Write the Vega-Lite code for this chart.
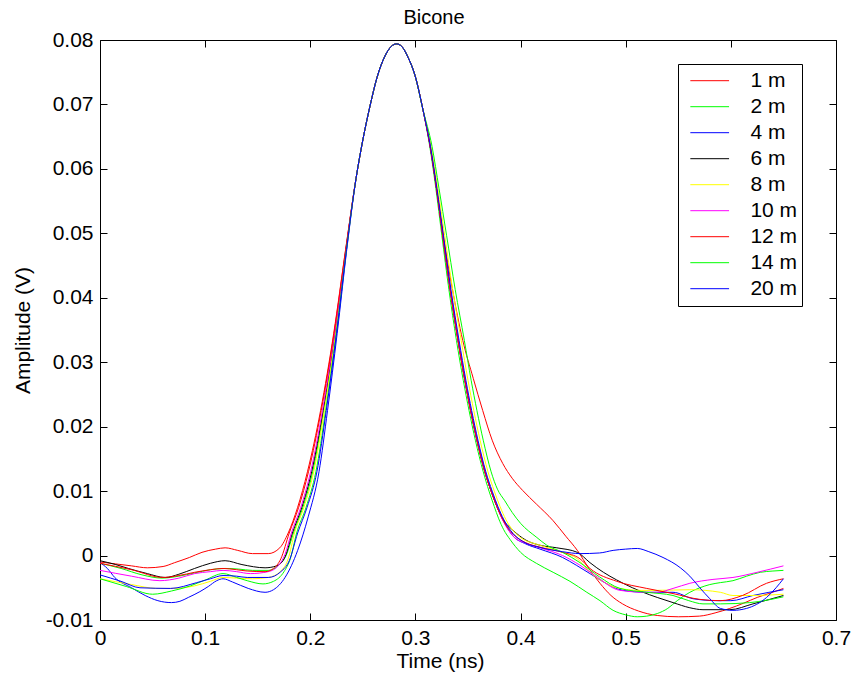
{
  "$schema": "https://vega.github.io/schema/vega-lite/v6.json",
  "autosize": {"type": "none"},
  "padding": {"left": 100, "top": 40, "right": 17, "bottom": 59},
  "width": 736,
  "height": 580,
  "background": "white",
  "config": {
    "font": "Liberation Sans",
    "view": {"stroke": "black", "strokeWidth": 1},
    "axis": {"grid": false, "domainColor": "black", "tickColor": "black", "labelColor": "black", "titleColor": "black", "labelFont": "Liberation Sans", "titleFont": "Liberation Sans", "titleFontWeight": "normal", "labelFontSize": 21, "titleFontSize": 21}
  },
  "title": {"text": "Bicone", "fontSize": 20, "fontWeight": "normal", "font": "Liberation Sans", "color": "black", "offset": 1, "dx": -34},
  "data": {"values": [
    {"s":"1 m","t":0,"v":-0.0010},{"s":"1 m","t":0.015,"v":-0.0013},{"s":"1 m","t":0.03,"v":-0.0016},{"s":"1 m","t":0.045,"v":-0.0019},{"s":"1 m","t":0.06,"v":-0.0017},{"s":"1 m","t":0.071,"v":-0.0011},{"s":"1 m","t":0.085,"v":-0.0003},{"s":"1 m","t":0.097,"v":0.0005},{"s":"1 m","t":0.11,"v":0.0010},{"s":"1 m","t":0.119,"v":0.0012},{"s":"1 m","t":0.131,"v":0.0008},{"s":"1 m","t":0.145,"v":0.0003},{"s":"1 m","t":0.16,"v":0.0003},{"s":"1 m","t":0.171,"v":0.0012},{"s":"1 m","t":0.179,"v":0.0035},{"s":"1 m","t":0.188,"v":0.0075},{"s":"1 m","t":0.1973,"v":0.0130},{"s":"1 m","t":0.2098,"v":0.0225},{"s":"1 m","t":0.2223,"v":0.0345},{"s":"1 m","t":0.2336,"v":0.0475},{"s":"1 m","t":0.2435,"v":0.0585},{"s":"1 m","t":0.250,"v":0.0645},{"s":"1 m","t":0.257,"v":0.0699},{"s":"1 m","t":0.2635,"v":0.0742},{"s":"1 m","t":0.271,"v":0.0775},{"s":"1 m","t":0.277,"v":0.0790},{"s":"1 m","t":0.282,"v":0.0794},{"s":"1 m","t":0.287,"v":0.0790},{"s":"1 m","t":0.293,"v":0.0773},{"s":"1 m","t":0.2996,"v":0.0745},{"s":"1 m","t":0.307,"v":0.0693},{"s":"1 m","t":0.314,"v":0.0637},{"s":"1 m","t":0.320,"v":0.0574},{"s":"1 m","t":0.326,"v":0.0503},{"s":"1 m","t":0.335,"v":0.0415},{"s":"1 m","t":0.345,"v":0.0334},{"s":"1 m","t":0.355,"v":0.0275},{"s":"1 m","t":0.364,"v":0.0225},{"s":"1 m","t":0.373,"v":0.0179},{"s":"1 m","t":0.383,"v":0.0143},{"s":"1 m","t":0.392,"v":0.0120},{"s":"1 m","t":0.402,"v":0.0101},{"s":"1 m","t":0.415,"v":0.0080},{"s":"1 m","t":0.431,"v":0.0054},{"s":"1 m","t":0.443,"v":0.0030},{"s":"1 m","t":0.454,"v":0.0008},{"s":"1 m","t":0.465,"v":-0.0020},{"s":"1 m","t":0.4755,"v":-0.0043},{"s":"1 m","t":0.486,"v":-0.0062},{"s":"1 m","t":0.497,"v":-0.0075},{"s":"1 m","t":0.512,"v":-0.0086},{"s":"1 m","t":0.53,"v":-0.0093},{"s":"1 m","t":0.55,"v":-0.0095},{"s":"1 m","t":0.57,"v":-0.0094},{"s":"1 m","t":0.585,"v":-0.0089},{"s":"1 m","t":0.599,"v":-0.0082},{"s":"1 m","t":0.612,"v":-0.0074},{"s":"1 m","t":0.625,"v":-0.0065},{"s":"1 m","t":0.638,"v":-0.0058},{"s":"1 m","t":0.65,"v":-0.0051},

    {"s":"2 m","t":0,"v":-0.0012},{"s":"2 m","t":0.02,"v":-0.0020},{"s":"2 m","t":0.04,"v":-0.0030},{"s":"2 m","t":0.059,"v":-0.0035},{"s":"2 m","t":0.075,"v":-0.0032},{"s":"2 m","t":0.09,"v":-0.0027},{"s":"2 m","t":0.105,"v":-0.0022},{"s":"2 m","t":0.119,"v":-0.0020},{"s":"2 m","t":0.132,"v":-0.0021},{"s":"2 m","t":0.145,"v":-0.0023},{"s":"2 m","t":0.16,"v":-0.0023},{"s":"2 m","t":0.17,"v":-0.0015},{"s":"2 m","t":0.177,"v":0.0000},{"s":"2 m","t":0.184,"v":0.0035},{"s":"2 m","t":0.193,"v":0.0075},{"s":"2 m","t":0.2023,"v":0.0130},{"s":"2 m","t":0.2128,"v":0.0225},{"s":"2 m","t":0.2238,"v":0.0345},{"s":"2 m","t":0.2341,"v":0.0475},{"s":"2 m","t":0.2435,"v":0.0585},{"s":"2 m","t":0.250,"v":0.0645},{"s":"2 m","t":0.257,"v":0.0699},{"s":"2 m","t":0.2635,"v":0.0742},{"s":"2 m","t":0.271,"v":0.0775},{"s":"2 m","t":0.277,"v":0.0790},{"s":"2 m","t":0.282,"v":0.0794},{"s":"2 m","t":0.287,"v":0.0790},{"s":"2 m","t":0.293,"v":0.0773},{"s":"2 m","t":0.2996,"v":0.0745},{"s":"2 m","t":0.307,"v":0.0693},{"s":"2 m","t":0.3136,"v":0.0635},{"s":"2 m","t":0.3194,"v":0.0570},{"s":"2 m","t":0.3251,"v":0.0497},{"s":"2 m","t":0.3318,"v":0.0413},{"s":"2 m","t":0.339,"v":0.0334},{"s":"2 m","t":0.3455,"v":0.0272},{"s":"2 m","t":0.351,"v":0.0225},{"s":"2 m","t":0.357,"v":0.0179},{"s":"2 m","t":0.3645,"v":0.0130},{"s":"2 m","t":0.370,"v":0.0100},{"s":"2 m","t":0.375,"v":0.0076},{"s":"2 m","t":0.379,"v":0.0058},{"s":"2 m","t":0.384,"v":0.0040},{"s":"2 m","t":0.39,"v":0.0025},{"s":"2 m","t":0.4,"v":0.0005},{"s":"2 m","t":0.415,"v":-0.0012},{"s":"2 m","t":0.431,"v":-0.0026},{"s":"2 m","t":0.447,"v":-0.0040},{"s":"2 m","t":0.463,"v":-0.0057},{"s":"2 m","t":0.4755,"v":-0.0070},{"s":"2 m","t":0.488,"v":-0.0085},{"s":"2 m","t":0.5,"v":-0.0092},{"s":"2 m","t":0.511,"v":-0.0095},{"s":"2 m","t":0.52,"v":-0.0094},{"s":"2 m","t":0.53,"v":-0.0090},{"s":"2 m","t":0.54,"v":-0.0082},{"s":"2 m","t":0.549,"v":-0.0070},{"s":"2 m","t":0.561,"v":-0.0057},{"s":"2 m","t":0.5705,"v":-0.0050},{"s":"2 m","t":0.58,"v":-0.0045},{"s":"2 m","t":0.59,"v":-0.0042},{"s":"2 m","t":0.602,"v":-0.0039},{"s":"2 m","t":0.615,"v":-0.0032},{"s":"2 m","t":0.628,"v":-0.0026},{"s":"2 m","t":0.64,"v":-0.0024},{"s":"2 m","t":0.65,"v":-0.0023},

    {"s":"4 m","t":0,"v":-0.0011},{"s":"4 m","t":0.007,"v":-0.0020},{"s":"4 m","t":0.014,"v":-0.0034},{"s":"4 m","t":0.03,"v":-0.0050},{"s":"4 m","t":0.043,"v":-0.0062},{"s":"4 m","t":0.055,"v":-0.0070},{"s":"4 m","t":0.068,"v":-0.0073},{"s":"4 m","t":0.076,"v":-0.0071},{"s":"4 m","t":0.084,"v":-0.0065},{"s":"4 m","t":0.095,"v":-0.0056},{"s":"4 m","t":0.103,"v":-0.0048},{"s":"4 m","t":0.111,"v":-0.0039},{"s":"4 m","t":0.117,"v":-0.0036},{"s":"4 m","t":0.126,"v":-0.0041},{"s":"4 m","t":0.141,"v":-0.0051},{"s":"4 m","t":0.157,"v":-0.0057},{"s":"4 m","t":0.165,"v":-0.0053},{"s":"4 m","t":0.176,"v":-0.0034},{"s":"4 m","t":0.188,"v":0.0008},{"s":"4 m","t":0.198,"v":0.0060},{"s":"4 m","t":0.2083,"v":0.0130},{"s":"4 m","t":0.2164,"v":0.0225},{"s":"4 m","t":0.2256,"v":0.0345},{"s":"4 m","t":0.2347,"v":0.0475},{"s":"4 m","t":0.2435,"v":0.0585},{"s":"4 m","t":0.250,"v":0.0645},{"s":"4 m","t":0.257,"v":0.0699},{"s":"4 m","t":0.2635,"v":0.0742},{"s":"4 m","t":0.271,"v":0.0775},{"s":"4 m","t":0.277,"v":0.0790},{"s":"4 m","t":0.282,"v":0.0794},{"s":"4 m","t":0.287,"v":0.0790},{"s":"4 m","t":0.293,"v":0.0773},{"s":"4 m","t":0.2996,"v":0.0745},{"s":"4 m","t":0.307,"v":0.0693},{"s":"4 m","t":0.314,"v":0.0635},{"s":"4 m","t":0.320,"v":0.0570},{"s":"4 m","t":0.326,"v":0.0497},{"s":"4 m","t":0.333,"v":0.0413},{"s":"4 m","t":0.3405,"v":0.0334},{"s":"4 m","t":0.347,"v":0.0272},{"s":"4 m","t":0.3525,"v":0.0225},{"s":"4 m","t":0.3585,"v":0.0179},{"s":"4 m","t":0.366,"v":0.0130},{"s":"4 m","t":0.372,"v":0.0100},{"s":"4 m","t":0.3775,"v":0.0076},{"s":"4 m","t":0.383,"v":0.0056},{"s":"4 m","t":0.393,"v":0.0030},{"s":"4 m","t":0.405,"v":0.0018},{"s":"4 m","t":0.4185,"v":0.0010},{"s":"4 m","t":0.44,"v":-0.0003},{"s":"4 m","t":0.453,"v":-0.0015},{"s":"4 m","t":0.466,"v":-0.0028},{"s":"4 m","t":0.48,"v":-0.0042},{"s":"4 m","t":0.4975,"v":-0.0054},{"s":"4 m","t":0.52,"v":-0.0057},{"s":"4 m","t":0.545,"v":-0.0057},{"s":"4 m","t":0.564,"v":-0.0067},{"s":"4 m","t":0.587,"v":-0.0070},{"s":"4 m","t":0.6,"v":-0.0070},{"s":"4 m","t":0.621,"v":-0.0062},{"s":"4 m","t":0.65,"v":-0.0053},

    {"s":"6 m","t":0,"v":-0.0008},{"s":"6 m","t":0.015,"v":-0.0014},{"s":"6 m","t":0.027,"v":-0.0020},{"s":"6 m","t":0.045,"v":-0.0028},{"s":"6 m","t":0.062,"v":-0.0034},{"s":"6 m","t":0.075,"v":-0.0029},{"s":"6 m","t":0.09,"v":-0.0020},{"s":"6 m","t":0.105,"v":-0.0012},{"s":"6 m","t":0.119,"v":-0.0008},{"s":"6 m","t":0.135,"v":-0.0014},{"s":"6 m","t":0.157,"v":-0.0019},{"s":"6 m","t":0.168,"v":-0.0016},{"s":"6 m","t":0.176,"v":-0.0002},{"s":"6 m","t":0.183,"v":0.0035},{"s":"6 m","t":0.192,"v":0.0075},{"s":"6 m","t":0.2013,"v":0.0130},{"s":"6 m","t":0.2122,"v":0.0225},{"s":"6 m","t":0.2235,"v":0.0345},{"s":"6 m","t":0.234,"v":0.0475},{"s":"6 m","t":0.2435,"v":0.0585},{"s":"6 m","t":0.250,"v":0.0645},{"s":"6 m","t":0.257,"v":0.0699},{"s":"6 m","t":0.2635,"v":0.0742},{"s":"6 m","t":0.271,"v":0.0775},{"s":"6 m","t":0.277,"v":0.0790},{"s":"6 m","t":0.282,"v":0.0794},{"s":"6 m","t":0.287,"v":0.0790},{"s":"6 m","t":0.293,"v":0.0773},{"s":"6 m","t":0.2996,"v":0.0745},{"s":"6 m","t":0.307,"v":0.0693},{"s":"6 m","t":0.314,"v":0.0635},{"s":"6 m","t":0.320,"v":0.0570},{"s":"6 m","t":0.326,"v":0.0497},{"s":"6 m","t":0.333,"v":0.0413},{"s":"6 m","t":0.3405,"v":0.0334},{"s":"6 m","t":0.347,"v":0.0272},{"s":"6 m","t":0.3525,"v":0.0225},{"s":"6 m","t":0.3585,"v":0.0179},{"s":"6 m","t":0.366,"v":0.0130},{"s":"6 m","t":0.372,"v":0.0100},{"s":"6 m","t":0.3775,"v":0.0076},{"s":"6 m","t":0.383,"v":0.0057},{"s":"6 m","t":0.393,"v":0.0039},{"s":"6 m","t":0.405,"v":0.0024},{"s":"6 m","t":0.4185,"v":0.0016},{"s":"6 m","t":0.4345,"v":0.0012},{"s":"6 m","t":0.454,"v":0.0005},{"s":"6 m","t":0.466,"v":-0.0011},{"s":"6 m","t":0.4725,"v":-0.0019},{"s":"6 m","t":0.4975,"v":-0.0043},{"s":"6 m","t":0.515,"v":-0.0056},{"s":"6 m","t":0.53,"v":-0.0065},{"s":"6 m","t":0.545,"v":-0.0073},{"s":"6 m","t":0.561,"v":-0.0081},{"s":"6 m","t":0.5735,"v":-0.0084},{"s":"6 m","t":0.599,"v":-0.0084},{"s":"6 m","t":0.621,"v":-0.0075},{"s":"6 m","t":0.65,"v":-0.0062},

    {"s":"8 m","t":0,"v":-0.0036},{"s":"8 m","t":0.03,"v":-0.0045},{"s":"8 m","t":0.054,"v":-0.0051},{"s":"8 m","t":0.07,"v":-0.0051},{"s":"8 m","t":0.09,"v":-0.0047},{"s":"8 m","t":0.105,"v":-0.0040},{"s":"8 m","t":0.117,"v":-0.0034},{"s":"8 m","t":0.13,"v":-0.0035},{"s":"8 m","t":0.145,"v":-0.0036},{"s":"8 m","t":0.16,"v":-0.0034},{"s":"8 m","t":0.172,"v":-0.0024},{"s":"8 m","t":0.179,"v":-0.0005},{"s":"8 m","t":0.185,"v":0.0035},{"s":"8 m","t":0.194,"v":0.0075},{"s":"8 m","t":0.2033,"v":0.0130},{"s":"8 m","t":0.2134,"v":0.0225},{"s":"8 m","t":0.2241,"v":0.0345},{"s":"8 m","t":0.2342,"v":0.0475},{"s":"8 m","t":0.2435,"v":0.0585},{"s":"8 m","t":0.250,"v":0.0645},{"s":"8 m","t":0.257,"v":0.0699},{"s":"8 m","t":0.2635,"v":0.0742},{"s":"8 m","t":0.271,"v":0.0775},{"s":"8 m","t":0.277,"v":0.0790},{"s":"8 m","t":0.282,"v":0.0794},{"s":"8 m","t":0.287,"v":0.0790},{"s":"8 m","t":0.293,"v":0.0773},{"s":"8 m","t":0.2996,"v":0.0745},{"s":"8 m","t":0.307,"v":0.0693},{"s":"8 m","t":0.3149,"v":0.0635},{"s":"8 m","t":0.3212,"v":0.0570},{"s":"8 m","t":0.3278,"v":0.0497},{"s":"8 m","t":0.3354,"v":0.0413},{"s":"8 m","t":0.3435,"v":0.0334},{"s":"8 m","t":0.350,"v":0.0272},{"s":"8 m","t":0.3555,"v":0.0225},{"s":"8 m","t":0.3615,"v":0.0179},{"s":"8 m","t":0.369,"v":0.0130},{"s":"8 m","t":0.375,"v":0.0100},{"s":"8 m","t":0.3805,"v":0.0076},{"s":"8 m","t":0.386,"v":0.0056},{"s":"8 m","t":0.395,"v":0.0035},{"s":"8 m","t":0.40,"v":0.0028},{"s":"8 m","t":0.4185,"v":0.0016},{"s":"8 m","t":0.44,"v":0.0005},{"s":"8 m","t":0.454,"v":-0.0005},{"s":"8 m","t":0.466,"v":-0.0026},{"s":"8 m","t":0.478,"v":-0.0040},{"s":"8 m","t":0.4915,"v":-0.0050},{"s":"8 m","t":0.5135,"v":-0.0054},{"s":"8 m","t":0.53,"v":-0.0054},{"s":"8 m","t":0.561,"v":-0.0053},{"s":"8 m","t":0.59,"v":-0.0057},{"s":"8 m","t":0.602,"v":-0.0062},{"s":"8 m","t":0.621,"v":-0.0062},{"s":"8 m","t":0.65,"v":-0.0060},

    {"s":"10 m","t":0,"v":-0.0023},{"s":"10 m","t":0.03,"v":-0.0032},{"s":"10 m","t":0.057,"v":-0.0039},{"s":"10 m","t":0.075,"v":-0.0035},{"s":"10 m","t":0.09,"v":-0.0028},{"s":"10 m","t":0.105,"v":-0.0025},{"s":"10 m","t":0.117,"v":-0.0023},{"s":"10 m","t":0.13,"v":-0.0025},{"s":"10 m","t":0.143,"v":-0.0028},{"s":"10 m","t":0.16,"v":-0.0025},{"s":"10 m","t":0.17,"v":-0.0015},{"s":"10 m","t":0.176,"v":0.0002},{"s":"10 m","t":0.182,"v":0.0035},{"s":"10 m","t":0.191,"v":0.0075},{"s":"10 m","t":0.2003,"v":0.0130},{"s":"10 m","t":0.2116,"v":0.0225},{"s":"10 m","t":0.2232,"v":0.0345},{"s":"10 m","t":0.2339,"v":0.0475},{"s":"10 m","t":0.2435,"v":0.0585},{"s":"10 m","t":0.250,"v":0.0645},{"s":"10 m","t":0.257,"v":0.0699},{"s":"10 m","t":0.2635,"v":0.0742},{"s":"10 m","t":0.271,"v":0.0775},{"s":"10 m","t":0.277,"v":0.0790},{"s":"10 m","t":0.282,"v":0.0794},{"s":"10 m","t":0.287,"v":0.0790},{"s":"10 m","t":0.293,"v":0.0773},{"s":"10 m","t":0.2996,"v":0.0745},{"s":"10 m","t":0.307,"v":0.0693},{"s":"10 m","t":0.314,"v":0.0635},{"s":"10 m","t":0.320,"v":0.0570},{"s":"10 m","t":0.326,"v":0.0497},{"s":"10 m","t":0.333,"v":0.0413},{"s":"10 m","t":0.3405,"v":0.0334},{"s":"10 m","t":0.347,"v":0.0272},{"s":"10 m","t":0.3525,"v":0.0225},{"s":"10 m","t":0.3585,"v":0.0179},{"s":"10 m","t":0.366,"v":0.0130},{"s":"10 m","t":0.372,"v":0.0100},{"s":"10 m","t":0.3775,"v":0.0076},{"s":"10 m","t":0.383,"v":0.0055},{"s":"10 m","t":0.393,"v":0.0030},{"s":"10 m","t":0.405,"v":0.0019},{"s":"10 m","t":0.4185,"v":0.0012},{"s":"10 m","t":0.44,"v":0.0000},{"s":"10 m","t":0.4565,"v":-0.0015},{"s":"10 m","t":0.47,"v":-0.0030},{"s":"10 m","t":0.4945,"v":-0.0054},{"s":"10 m","t":0.52,"v":-0.0057},{"s":"10 m","t":0.53,"v":-0.0057},{"s":"10 m","t":0.545,"v":-0.0051},{"s":"10 m","t":0.561,"v":-0.0043},{"s":"10 m","t":0.583,"v":-0.0037},{"s":"10 m","t":0.602,"v":-0.0034},{"s":"10 m","t":0.625,"v":-0.0026},{"s":"10 m","t":0.65,"v":-0.0016},

    {"s":"12 m","t":0,"v":-0.0012},{"s":"12 m","t":0.03,"v":-0.0022},{"s":"12 m","t":0.06,"v":-0.0034},{"s":"12 m","t":0.075,"v":-0.0031},{"s":"12 m","t":0.09,"v":-0.0026},{"s":"12 m","t":0.105,"v":-0.0022},{"s":"12 m","t":0.117,"v":-0.0020},{"s":"12 m","t":0.13,"v":-0.0022},{"s":"12 m","t":0.14,"v":-0.0024},{"s":"12 m","t":0.157,"v":-0.0025},{"s":"12 m","t":0.165,"v":-0.0020},{"s":"12 m","t":0.172,"v":-0.0005},{"s":"12 m","t":0.18,"v":0.0035},{"s":"12 m","t":0.189,"v":0.0075},{"s":"12 m","t":0.1983,"v":0.0130},{"s":"12 m","t":0.2104,"v":0.0225},{"s":"12 m","t":0.2226,"v":0.0345},{"s":"12 m","t":0.2337,"v":0.0475},{"s":"12 m","t":0.2435,"v":0.0585},{"s":"12 m","t":0.250,"v":0.0645},{"s":"12 m","t":0.257,"v":0.0699},{"s":"12 m","t":0.2635,"v":0.0742},{"s":"12 m","t":0.271,"v":0.0775},{"s":"12 m","t":0.277,"v":0.0790},{"s":"12 m","t":0.282,"v":0.0794},{"s":"12 m","t":0.287,"v":0.0790},{"s":"12 m","t":0.293,"v":0.0773},{"s":"12 m","t":0.2996,"v":0.0745},{"s":"12 m","t":0.307,"v":0.0693},{"s":"12 m","t":0.314,"v":0.0635},{"s":"12 m","t":0.320,"v":0.0570},{"s":"12 m","t":0.326,"v":0.0497},{"s":"12 m","t":0.333,"v":0.0413},{"s":"12 m","t":0.3405,"v":0.0334},{"s":"12 m","t":0.347,"v":0.0272},{"s":"12 m","t":0.3525,"v":0.0225},{"s":"12 m","t":0.3585,"v":0.0179},{"s":"12 m","t":0.366,"v":0.0130},{"s":"12 m","t":0.372,"v":0.0100},{"s":"12 m","t":0.3775,"v":0.0076},{"s":"12 m","t":0.383,"v":0.0056},{"s":"12 m","t":0.393,"v":0.0033},{"s":"12 m","t":0.405,"v":0.0020},{"s":"12 m","t":0.4185,"v":0.0013},{"s":"12 m","t":0.44,"v":0.0005},{"s":"12 m","t":0.4565,"v":-0.0005},{"s":"12 m","t":0.466,"v":-0.0020},{"s":"12 m","t":0.4915,"v":-0.0040},{"s":"12 m","t":0.52,"v":-0.0051},{"s":"12 m","t":0.545,"v":-0.0059},{"s":"12 m","t":0.5705,"v":-0.0068},{"s":"12 m","t":0.59,"v":-0.0070},{"s":"12 m","t":0.611,"v":-0.0062},{"s":"12 m","t":0.634,"v":-0.0043},{"s":"12 m","t":0.65,"v":-0.0036},

    {"s":"14 m","t":0,"v":-0.0036},{"s":"14 m","t":0.025,"v":-0.0048},{"s":"14 m","t":0.05,"v":-0.0060},{"s":"14 m","t":0.068,"v":-0.0055},{"s":"14 m","t":0.086,"v":-0.0047},{"s":"14 m","t":0.1,"v":-0.0038},{"s":"14 m","t":0.117,"v":-0.0028},{"s":"14 m","t":0.13,"v":-0.0034},{"s":"14 m","t":0.14,"v":-0.0039},{"s":"14 m","t":0.155,"v":-0.0044},{"s":"14 m","t":0.165,"v":-0.0040},{"s":"14 m","t":0.175,"v":-0.0025},{"s":"14 m","t":0.181,"v":-0.0005},{"s":"14 m","t":0.187,"v":0.0035},{"s":"14 m","t":0.196,"v":0.0075},{"s":"14 m","t":0.2053,"v":0.0130},{"s":"14 m","t":0.2146,"v":0.0225},{"s":"14 m","t":0.2247,"v":0.0345},{"s":"14 m","t":0.2344,"v":0.0475},{"s":"14 m","t":0.2435,"v":0.0585},{"s":"14 m","t":0.250,"v":0.0645},{"s":"14 m","t":0.257,"v":0.0699},{"s":"14 m","t":0.2635,"v":0.0742},{"s":"14 m","t":0.271,"v":0.0775},{"s":"14 m","t":0.277,"v":0.0790},{"s":"14 m","t":0.282,"v":0.0794},{"s":"14 m","t":0.287,"v":0.0790},{"s":"14 m","t":0.293,"v":0.0773},{"s":"14 m","t":0.2996,"v":0.0745},{"s":"14 m","t":0.307,"v":0.0693},{"s":"14 m","t":0.3158,"v":0.0635},{"s":"14 m","t":0.3224,"v":0.0570},{"s":"14 m","t":0.3296,"v":0.0497},{"s":"14 m","t":0.3378,"v":0.0413},{"s":"14 m","t":0.3465,"v":0.0334},{"s":"14 m","t":0.353,"v":0.0272},{"s":"14 m","t":0.3585,"v":0.0225},{"s":"14 m","t":0.3645,"v":0.0179},{"s":"14 m","t":0.372,"v":0.0130},{"s":"14 m","t":0.378,"v":0.0103},{"s":"14 m","t":0.385,"v":0.0085},{"s":"14 m","t":0.392,"v":0.0067},{"s":"14 m","t":0.4,"v":0.0050},{"s":"14 m","t":0.4155,"v":0.0028},{"s":"14 m","t":0.425,"v":0.0016},{"s":"14 m","t":0.44,"v":0.0005},{"s":"14 m","t":0.4565,"v":-0.0011},{"s":"14 m","t":0.475,"v":-0.0033},{"s":"14 m","t":0.4945,"v":-0.0051},{"s":"14 m","t":0.52,"v":-0.0057},{"s":"14 m","t":0.545,"v":-0.0062},{"s":"14 m","t":0.56,"v":-0.0070},{"s":"14 m","t":0.5735,"v":-0.0075},{"s":"14 m","t":0.59,"v":-0.0075},{"s":"14 m","t":0.618,"v":-0.0073},{"s":"14 m","t":0.65,"v":-0.0064},

    {"s":"20 m","t":0,"v":-0.0030},{"s":"20 m","t":0.02,"v":-0.0040},{"s":"20 m","t":0.038,"v":-0.0050},{"s":"20 m","t":0.067,"v":-0.0051},{"s":"20 m","t":0.092,"v":-0.0042},{"s":"20 m","t":0.105,"v":-0.0036},{"s":"20 m","t":0.117,"v":-0.0031},{"s":"20 m","t":0.13,"v":-0.0032},{"s":"20 m","t":0.14,"v":-0.0034},{"s":"20 m","t":0.16,"v":-0.0034},{"s":"20 m","t":0.172,"v":-0.0025},{"s":"20 m","t":0.18,"v":-0.0008},{"s":"20 m","t":0.188,"v":0.0035},{"s":"20 m","t":0.197,"v":0.0075},{"s":"20 m","t":0.2063,"v":0.0130},{"s":"20 m","t":0.2152,"v":0.0225},{"s":"20 m","t":0.225,"v":0.0345},{"s":"20 m","t":0.2345,"v":0.0475},{"s":"20 m","t":0.2435,"v":0.0585},{"s":"20 m","t":0.250,"v":0.0645},{"s":"20 m","t":0.257,"v":0.0699},{"s":"20 m","t":0.2635,"v":0.0742},{"s":"20 m","t":0.271,"v":0.0775},{"s":"20 m","t":0.277,"v":0.0790},{"s":"20 m","t":0.282,"v":0.0794},{"s":"20 m","t":0.287,"v":0.0790},{"s":"20 m","t":0.293,"v":0.0773},{"s":"20 m","t":0.2996,"v":0.0745},{"s":"20 m","t":0.307,"v":0.0693},{"s":"20 m","t":0.3143,"v":0.0635},{"s":"20 m","t":0.3204,"v":0.0570},{"s":"20 m","t":0.3266,"v":0.0497},{"s":"20 m","t":0.3338,"v":0.0413},{"s":"20 m","t":0.3415,"v":0.0334},{"s":"20 m","t":0.348,"v":0.0272},{"s":"20 m","t":0.3535,"v":0.0225},{"s":"20 m","t":0.3595,"v":0.0179},{"s":"20 m","t":0.367,"v":0.0130},{"s":"20 m","t":0.373,"v":0.0100},{"s":"20 m","t":0.3785,"v":0.0076},{"s":"20 m","t":0.384,"v":0.0056},{"s":"20 m","t":0.393,"v":0.0034},{"s":"20 m","t":0.402,"v":0.0022},{"s":"20 m","t":0.42,"v":0.0012},{"s":"20 m","t":0.44,"v":0.0006},{"s":"20 m","t":0.4565,"v":0.0003},{"s":"20 m","t":0.475,"v":0.0004},{"s":"20 m","t":0.488,"v":0.0008},{"s":"20 m","t":0.5,"v":0.0010},{"s":"20 m","t":0.511,"v":0.0011},{"s":"20 m","t":0.522,"v":0.0006},{"s":"20 m","t":0.5355,"v":-0.0003},{"s":"20 m","t":0.552,"v":-0.0019},{"s":"20 m","t":0.561,"v":-0.0032},{"s":"20 m","t":0.5705,"v":-0.0050},{"s":"20 m","t":0.58,"v":-0.0067},{"s":"20 m","t":0.59,"v":-0.0082},{"s":"20 m","t":0.602,"v":-0.0085},{"s":"20 m","t":0.615,"v":-0.0082},{"s":"20 m","t":0.634,"v":-0.0065},{"s":"20 m","t":0.643,"v":-0.0050},{"s":"20 m","t":0.65,"v":-0.0036}
  ]},
  "resolve": {"axis": {"x": "independent", "y": "independent"}},
  "layer": [
    {
      "mark": {"type": "line", "strokeWidth": 1, "interpolate": "monotone"},
      "encoding": {
        "x": {"field": "t", "type": "quantitative", "scale": {"domain": [0, 0.7], "nice": false, "zero": false},
              "axis": {"orient": "bottom", "title": "Time (ns)", "titleX": 340, "values": [0, 0.1, 0.2, 0.3, 0.4, 0.5, 0.6, 0.7], "format": "~g", "tickSize": -7, "labelPadding": 14, "titlePadding": 2, "domain": false, "labelFlush": false}},
        "y": {"field": "v", "type": "quantitative", "scale": {"domain": [-0.01, 0.08], "nice": false, "zero": false},
              "axis": {"orient": "left", "title": "Amplitude (V)", "values": [-0.01, 0, 0.01, 0.02, 0.03, 0.04, 0.05, 0.06, 0.07, 0.08], "labelExpr": "datum.value < 0 ? '-' + format(-datum.value, '~g') : format(datum.value, '~g')", "tickSize": -7, "labelPadding": 14, "titlePadding": 12, "domain": false, "labelFlush": false}},
        "color": {"field": "s", "type": "nominal",
                  "scale": {"domain": ["1 m", "2 m", "4 m", "6 m", "8 m", "10 m", "12 m", "14 m", "20 m"],
                            "range": ["#ff0000", "#00ff00", "#0000ff", "#000000", "#ffff00", "#ff00ff", "#ff0000", "#00ff00", "#0000ff"]},
                  "legend": {"title": null, "orient": "none", "legendX": 578, "legendY": 24, "symbolType": "stroke", "symbolSize": 1500, "symbolStrokeWidth": 1, "symbolOffset": 7.7, "labelFontSize": 21, "labelFont": "Liberation Sans", "labelColor": "black", "labelExpr": "datum.label + '\u00a0\u00a0\u2009'", "strokeColor": "black", "fillColor": "white", "padding": 4, "rowPadding": 0, "clipHeight": 25.4, "labelOffset": 20.7}},
        "order": {"field": "t", "type": "quantitative"}
      }
    },
    {
      "mark": {"type": "point", "opacity": 0},
      "encoding": {
        "x": {"field": "t", "type": "quantitative", "axis": {"orient": "top", "title": null, "labels": false, "values": [0, 0.1, 0.2, 0.3, 0.4, 0.5, 0.6, 0.7], "tickSize": -7, "domain": false}},
        "y": {"field": "v", "type": "quantitative", "axis": {"orient": "right", "title": null, "labels": false, "values": [-0.01, 0, 0.01, 0.02, 0.03, 0.04, 0.05, 0.06, 0.07, 0.08], "tickSize": -7, "domain": false}}
      }
    }
  ]
}
